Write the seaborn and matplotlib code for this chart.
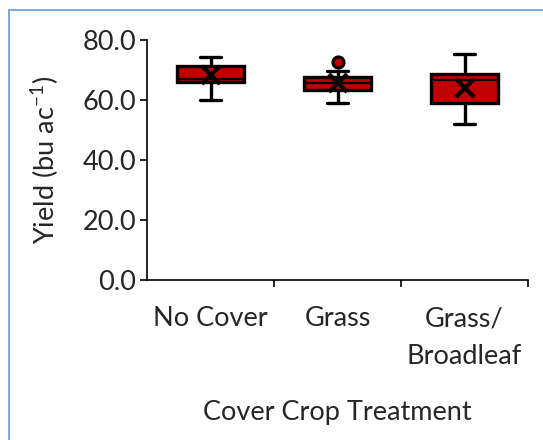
import pandas as pd
import seaborn as sns
import matplotlib.pyplot as plt
from matplotlib.lines import Line2D

treatments = ['No Cover', 'Grass', 'Grass/\nBroadleaf']
no_cover = [60.0, 65.2, 65.7, 65.9, 66.3, 66.8, 67.0, 70.2, 71.0, 71.4, 72.6, 73.8, 74.2]
grass = [58.9, 61.5, 62.8, 63.3, 64.2, 65.0, 65.6, 66.0, 66.8, 67.6, 68.5, 69.8, 72.6]
grass_broadleaf = [52.0, 55.0, 57.5, 58.9, 61.0, 64.0, 66.7, 67.3, 68.0, 68.6, 69.0, 69.5, 75.3]
y_ticks = [0, 20, 40, 60, 80]

df = pd.DataFrame({
    'Treatment': [treatments[0]] * len(no_cover) + [treatments[1]] * len(grass)
                 + [treatments[2]] * len(grass_broadleaf),
    'Yield': no_cover + grass + grass_broadleaf,
})

sns.set_style('white')
plt.rcParams['font.family'] = ['Lato', 'DejaVu Sans']
plt.rcParams['mathtext.fontset'] = 'custom'
plt.rcParams['mathtext.rm'] = 'Lato'
plt.rcParams['mathtext.default'] = 'regular'

fig = plt.figure(figsize=(5.43, 4.40), dpi=100)
ax = fig.add_axes([147 / 543, 160 / 440, 381 / 543, 240 / 440])

red = '#C00000'
fs = 19.5
sns.boxplot(data=df, x='Treatment', y='Yield', order=treatments, ax=ax,
            color=red, saturation=1, linecolor='black', linewidth=2.4,
            width=0.52, whis=1.1, capwidths=0.17,
            showmeans=True,
            meanprops=dict(marker='x', markersize=13, markeredgewidth=3,
                           markeredgecolor='black'),
            medianprops=dict(color='black', linewidth=1.6),
            flierprops=dict(marker='o', markersize=8, markerfacecolor=red,
                            markeredgecolor='black', markeredgewidth=2.2))

ax.set_ylim(0, 80)
ax.set_xlim(-0.5, 2.5)
ax.set_yticks(y_ticks)
ax.set_yticklabels([f'{v:.1f}' for v in y_ticks])
ax.set_xticks([0, 1, 2])
ax.set_xticklabels(treatments, linespacing=1.65)
ax.set_xticks([0.5, 1.5, 2.5], minor=True)
ax.tick_params(axis='x', which='major', length=0, pad=19, labelsize=fs)
ax.tick_params(axis='x', which='minor', direction='out', length=5, width=1.2,
               color='black', bottom=True)
ax.tick_params(axis='y', direction='out', length=5, width=1.2, color='black',
               left=True, labelsize=fs, pad=3)

for side in ['top', 'right']:
    ax.spines[side].set_visible(False)
for side in ['left', 'bottom']:
    ax.spines[side].set_color('black')
    ax.spines[side].set_linewidth(1.2)

ax.set_xlabel('Cover Crop Treatment', fontsize=fs, labelpad=22)
ax.set_ylabel('Yield (bu ac$^{-1}$)', fontsize=fs, labelpad=15)

# light blue frame of the original figure panel
fig.add_artist(Line2D([9 / 543, 9 / 543], [0, 1 - 10 / 440], color='#6fa0d8', lw=1.3))
fig.add_artist(Line2D([9 / 543, 1], [1 - 10 / 440, 1 - 10 / 440], color='#6fa0d8', lw=1.3))

fig.savefig('out.png', dpi=100)
